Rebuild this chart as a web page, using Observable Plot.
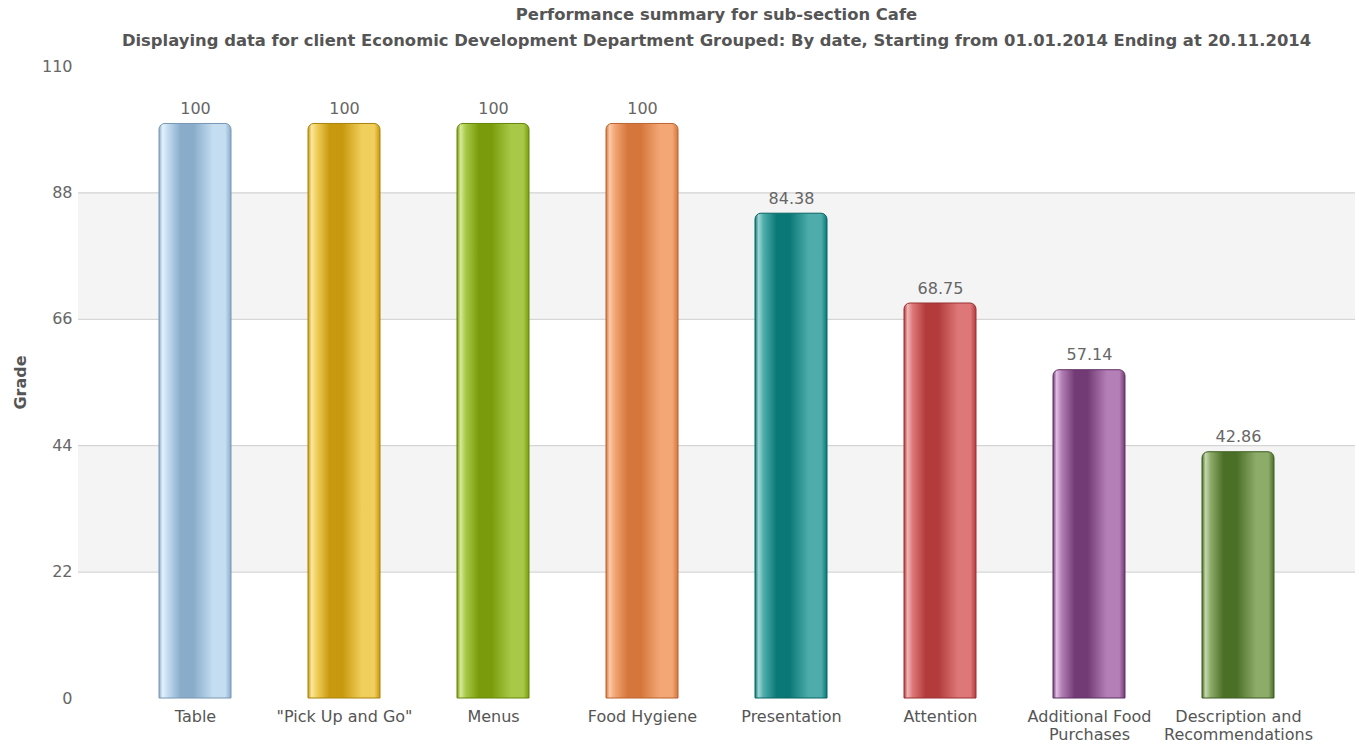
<!DOCTYPE html>
<html><head><meta charset="utf-8">
<script src="https://cdn.jsdelivr.net/npm/d3@7"></script>
<script src="https://cdn.jsdelivr.net/npm/@observablehq/plot@0.6"></script>
<style>
body{margin:0;background:#fff;font-family:"DejaVu Sans",Verdana,sans-serif;}
.t{padding-left:74px;text-align:center;font-weight:bold;font-size:16.4px;color:#555;white-space:nowrap;}
</style></head><body>
<div class="t" style="height:29px;line-height:29px">Performance summary for sub-section Cafe</div>
<div class="t" style="height:23px;line-height:23px">Displaying data for client Economic Development Department Grouped: By date, Starting from 01.01.2014 Ending at 20.11.2014</div>
<div id="chart"></div>
<script>
const categories = ["Table", "\"Pick Up and Go\"", "Menus", "Food Hygiene", "Presentation", "Attention", "Additional Food Purchases", "Description and Recommendations"];
const tickLabels = ["Table", "\"Pick Up and Go\"", "Menus", "Food Hygiene", "Presentation", "Attention", "Additional Food\nPurchases", "Description and\nRecommendations"];
const grades = [100, 100, 100, 100, 84.38, 68.75, 57.14, 42.86];
const valueLabels = ["100", "100", "100", "100", "84.38", "68.75", "57.14", "42.86"];
const yTicks = [0, 22, 44, 66, 88, 110];
const gridValues = [22, 44, 66, 88];
const bandLow = [22, 66];
const bandHigh = [44, 88];
const highlightColors = ["#e4f1fb", "#fbe7a0", "#d5ea9a", "#fbcaa8", "#9fd6d4", "#f1b5b5", "#e0bfe2", "#c4d8ae"];
const lightColors = ["#c4ddf1", "#f1cf5c", "#a8c948", "#f3a775", "#4eadab", "#de7878", "#b47fb6", "#8dab69"];
const darkColors = ["#8aaccb", "#c8990f", "#7a9c0c", "#d5763c", "#0a7877", "#b33b3c", "#723b75", "#4b6f27"];
const strokeColors = ["#7896b2", "#a9820d", "#66840a", "#b96331", "#086362", "#983132", "#5f3062", "#3e5d20"];

const data = categories.map((c, i) => ({category: c, grade: grades[i], label: valueLabels[i], i}));
const bands = bandLow.map((lo, i) => ({lo, hi: bandHigh[i]}));
const labelOf = new Map(categories.map((c, i) => [c, tickLabels[i]]));

const plot = Plot.plot({
  width: 1359,
  height: 692,
  marginTop: 14,
  marginBottom: 46,
  marginLeft: 78,
  marginRight: 4,
  style: {fontFamily: "'DejaVu Sans', Verdana, sans-serif", fontSize: "16px", color: "#666", background: "#fff"},
  x: {domain: categories, range: [117, 1315], paddingInner: 0.52, paddingOuter: 0.26, label: null},
  y: {domain: [0, 110], label: null},
  color: {type: "identity"},
  marks: [
    Plot.rectY(bands, {y1: "lo", y2: "hi", fill: "#f4f4f4"}),
    Plot.ruleY(gridValues, {stroke: "#cccccc", strokeWidth: 1}),
    Plot.barY(data, {x: "category", y: "grade", fill: d => `url(#bargrad${d.i})`, stroke: d => strokeColors[d.i], strokeWidth: 1, ry1: 6, rx: 0}),
    Plot.text(data, {x: "category", y: "grade", text: "label", dy: -15, fill: "#666", fontSize: 16}),
    Plot.axisX({tickSize: 0, tickPadding: 10, tickFormat: d => labelOf.get(d), fontSize: 16, fill: "#555", lineHeight: 1.15, label: null, textAnchor: "middle"}),
    Plot.axisY(yTicks, {tickSize: 0, tickPadding: 6, fontSize: 16, fill: "#666", label: null}),
    Plot.text(["Grade"], {frameAnchor: "left", dx: -58, rotate: -90, textAnchor: "middle", fontWeight: "bold", fontSize: 16, fill: "#555"})
  ]
});

const svg = d3.select(plot.tagName.toLowerCase() === "svg" ? plot : plot.querySelector("svg"));
const defs = svg.insert("defs", ":first-child");
categories.forEach((c, i) => {
  const g = defs.append("linearGradient").attr("id", `bargrad${i}`).attr("x1", "0").attr("x2", "1").attr("y1", "0").attr("y2", "0");
  const stops = [
    [0, darkColors[i]], [0.05, highlightColors[i]], [0.12, lightColors[i]], [0.3, darkColors[i]],
    [0.48, darkColors[i]], [0.75, lightColors[i]], [0.92, lightColors[i]], [1, darkColors[i]]
  ];
  stops.forEach(([o, col]) => g.append("stop").attr("offset", o).attr("stop-color", col));
});
document.getElementById("chart").appendChild(plot);
</script>
</body></html>
